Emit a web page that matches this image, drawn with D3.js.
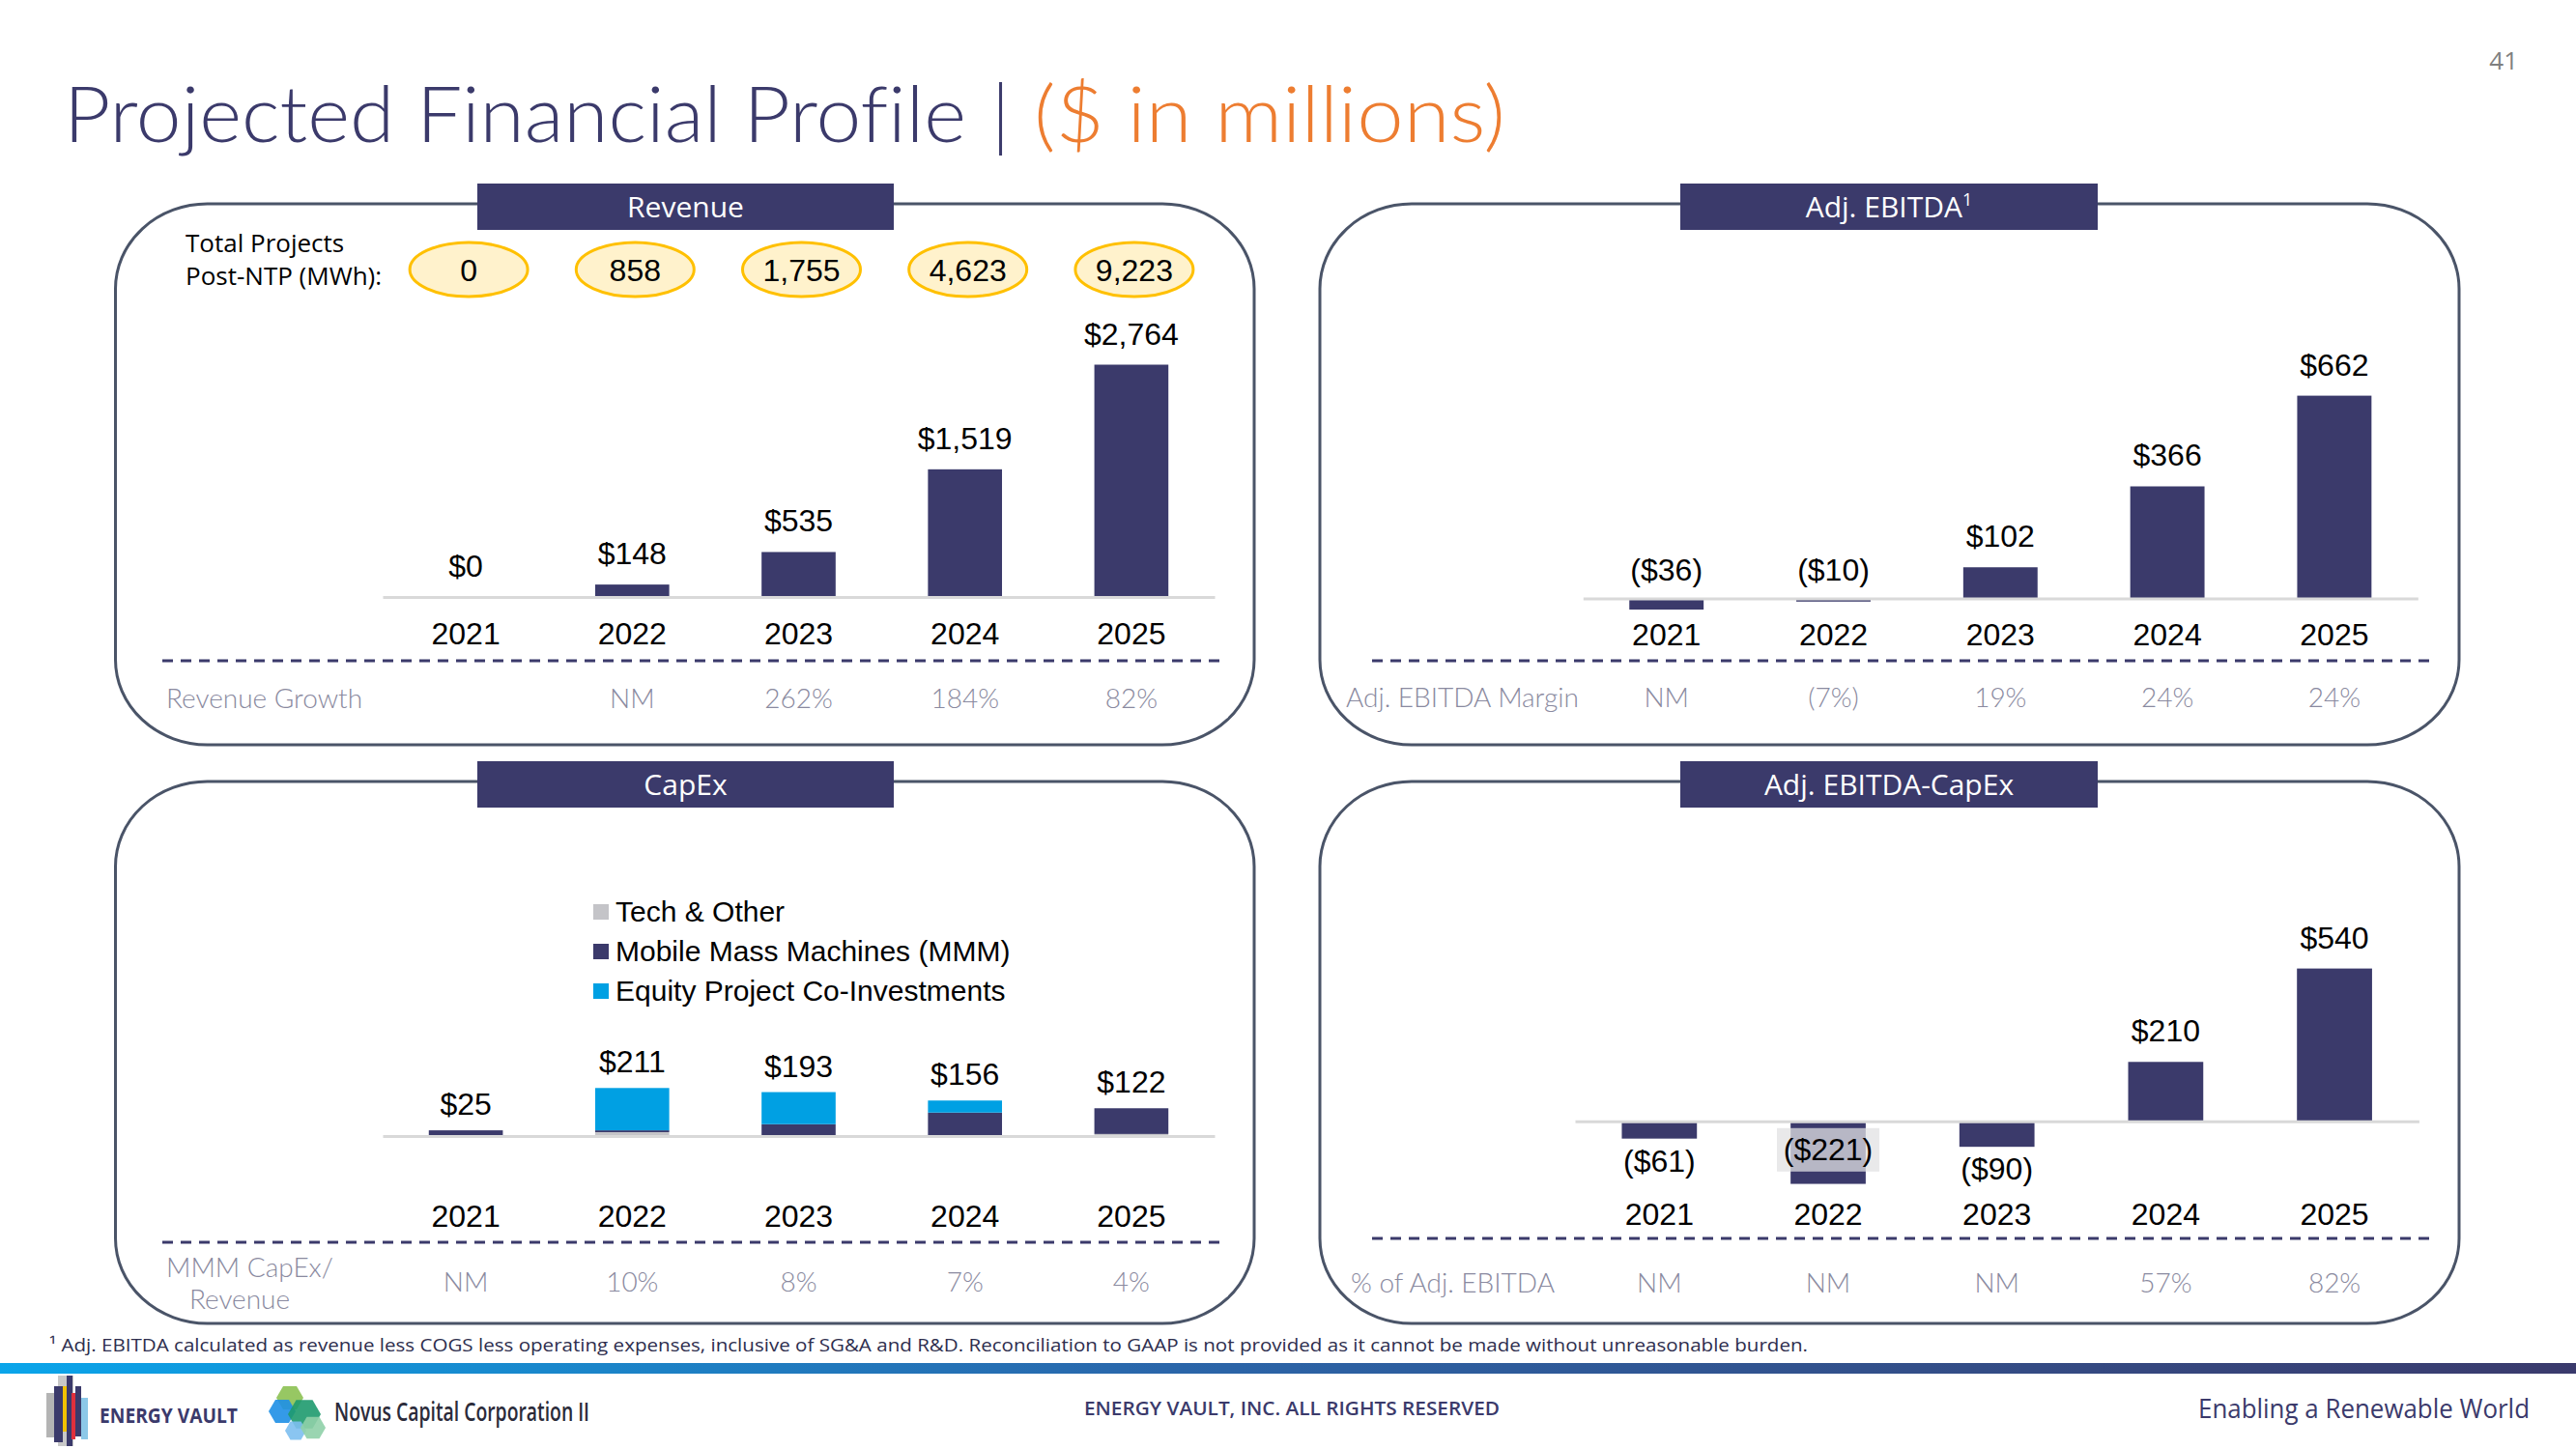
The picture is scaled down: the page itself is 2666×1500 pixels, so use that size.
<!DOCTYPE html>
<html><head><meta charset="utf-8">
<script src="https://cdn.jsdelivr.net/npm/d3@7"></script>
<style>body{margin:0;background:#fff}svg{display:block}text{font-variant-ligatures:none}</style>
</head><body><svg id="c" width="2666" height="1500"></svg>
<script>
// ---------- DATA ----------
const years = ["2021","2022","2023","2024","2025"];
const projectsMWh = ["0","858","1,755","4,623","9,223"];
const revenue = [0,148,535,1519,2764];
const revenueGrowth = ["","NM","262%","184%","82%"];
const adjEbitda = [-36,-10,102,366,662];
const ebitdaMargin = ["NM","(7%)","19%","24%","24%"];
const capexSeries = ["Tech & Other","Mobile Mass Machines (MMM)","Equity Project Co-Investments"];
const capexTech = [0,17,0,0,9];
const capexMMM = [25,8,52,103,113];
const capexEquity = [0,186,141,53,0];
const capexTotal = [25,211,193,156,122];
const mmmCapexPct = ["NM","10%","8%","7%","4%"];
const ebitdaLessCapex = [-61,-221,-90,210,540];
const pctOfEbitda = ["NM","NM","NM","57%","82%"];

// ---------- STYLE ----------
const NAVY="#3B3A6B", CYAN="#00A0E3", LGRAY="#C4C4C8", AXIS="#D9D9D9", ROWGRAY="#8A8AA0", PANEL="#4A5468";
const VALF="'Liberation Sans', Arial, sans-serif", UIF="'Open Sans', sans-serif", THIN="Lato, 'Open Sans', sans-serif";
const svg = d3.select("#c");
svg.append("rect").attr("width",2666).attr("height",1500).attr("fill","#fff");
const fmt = v => v<0 ? "($"+d3.format(",")(-v)+")" : "$"+d3.format(",")(v);

// Title
svg.append("text").attr("x",66).attr("y",147).attr("font-family",THIN).attr("font-weight",300)
  .attr("font-size",80).attr("fill",NAVY).attr("textLength",934).attr("lengthAdjust","spacingAndGlyphs")
  .text("Projected Financial Profile");
svg.append("text").attr("x",1026).attr("y",147).attr("font-family",THIN).attr("font-weight",300)
  .attr("font-size",80).attr("fill",NAVY).text("|");
svg.append("text").attr("x",1070).attr("y",147).attr("font-family",THIN).attr("font-weight",300)
  .attr("font-size",80).attr("fill","#ED7D31").attr("textLength",488).attr("lengthAdjust","spacingAndGlyphs")
  .text("($ in millions)");
svg.append("text").attr("x",2606).attr("y",72).attr("text-anchor","end").attr("font-family",UIF)
  .attr("font-size",26).attr("fill","#7F7F7F").text("41");

function panel(x0,y0,x1,y1,hx0,hx1,title,sup){
  svg.append("rect").attr("x",x0).attr("y",y0).attr("width",x1-x0).attr("height",y1-y0)
    .attr("rx",95).attr("ry",88).attr("fill","none").attr("stroke",PANEL).attr("stroke-width",3);
  svg.append("rect").attr("x",hx0).attr("y",y0-21).attr("width",hx1-hx0).attr("height",48).attr("fill",NAVY);
  const t = svg.append("text").attr("x",(hx0+hx1)/2).attr("y",y0+14).attr("text-anchor","middle")
    .attr("font-family",UIF).attr("font-size",30).attr("fill","#fff").text(title);
  if(sup) t.append("tspan").attr("font-size",18).attr("dy",-12).text(sup);
}

function axisAndRows(g, x, y0, yearBase, dashY, dashX0, dashX1, rowLabel, rowLabelX, rowBase, rowVals, rowLabel2){
  const ax = g.append("g").attr("transform",`translate(0,${y0})`)
    .call(d3.axisBottom(x).tickSize(0).tickSizeOuter(0));
  ax.select(".domain").attr("stroke",AXIS).attr("stroke-width",3);
  ax.selectAll("text").attr("y",yearBase-y0).attr("dy",null).attr("font-family",VALF)
    .attr("font-size",32).attr("fill","#000");
  g.append("line").attr("x1",dashX0).attr("x2",dashX1).attr("y1",dashY).attr("y2",dashY)
    .attr("stroke",NAVY).attr("stroke-width",3).attr("stroke-dasharray","11 8");
  const bw = x.bandwidth();
  const rowText = sel => sel.attr("font-family",THIN).attr("font-weight",300).attr("font-size",28).attr("fill",ROWGRAY);
  if(rowLabel2){
    rowText(g.append("text").attr("x",rowLabelX).attr("y",rowBase-15)).text(rowLabel);
    rowText(g.append("text").attr("x",rowLabelX+76).attr("y",rowBase+18).attr("text-anchor","middle")).text(rowLabel2);
  } else {
    rowText(g.append("text").attr("x",rowLabelX).attr("y",rowBase)).text(rowLabel);
  }
  rowText(g.selectAll("text.row").data(rowVals).join("text").attr("class","row")
    .attr("x",(d,i)=>x(years[i])+bw/2).attr("y",rowBase).attr("text-anchor","middle")).text(d=>d);
}

const band = (a,b) => d3.scaleBand().domain(years).range([a,b]).paddingInner(0.555).paddingOuter(0.2775);

// ---------- Revenue ----------
panel(119.5,211,1298,771,494,925,"Revenue");
{
  const g = svg.append("g");
  const x = band(396,1257);
  const y = d3.scaleLinear().domain([0,2764]).range([618,377.5]);
  const bw = x.bandwidth();
  g.selectAll("rect.bar").data(revenue).join("rect").attr("class","bar")
    .attr("x",(d,i)=>x(years[i])).attr("width",bw)
    .attr("y",d=>y(Math.max(d,0))).attr("height",d=>Math.abs(y(d)-y(0))).attr("fill",NAVY);
  axisAndRows(g,x,618,666.5,684,168,1262,"Revenue Growth",172,733,revenueGrowth);
  g.selectAll("text.val").data(revenue).join("text").attr("class","val")
    .attr("x",(d,i)=>x(years[i])+bw/2).attr("y",d=>y(d)-21).attr("text-anchor","middle")
    .attr("font-family",VALF).attr("font-size",32).attr("fill","#000").text(fmt);
  // MWh ovals
  g.append("text").attr("x",192).attr("y",261).attr("font-family",UIF).attr("font-size",26).attr("fill","#000").text("Total Projects");
  g.append("text").attr("x",192).attr("y",295).attr("font-family",UIF).attr("font-size",26).attr("fill","#000").text("Post-NTP (MWh):");
  g.selectAll("ellipse.mwh").data(projectsMWh).join("ellipse").attr("class","mwh")
    .attr("cx",(d,i)=>x(years[i])+bw/2+3).attr("cy",279).attr("rx",61).attr("ry",28)
    .attr("fill","#FFF2CC").attr("stroke","#FFC000").attr("stroke-width",3);
  g.selectAll("text.mwh").data(projectsMWh).join("text").attr("class","mwh")
    .attr("x",(d,i)=>x(years[i])+bw/2+3).attr("y",291).attr("text-anchor","middle")
    .attr("font-family",VALF).attr("font-size",32).attr("fill","#000").text(d=>d);
}

// ---------- Adj. EBITDA ----------
panel(1366,211,2545,771,1739,2171,"Adj. EBITDA","1");
{
  const g = svg.append("g");
  const x = band(1638.3,2502.3);
  const y = d3.scaleLinear().domain([0,662]).range([619.6,409.6]);
  const bw = x.bandwidth();
  g.selectAll("rect.bar").data(adjEbitda).join("rect").attr("class","bar")
    .attr("x",(d,i)=>x(years[i])).attr("width",bw)
    .attr("y",d=>y(Math.max(d,0))).attr("height",d=>Math.abs(y(d)-y(0))).attr("fill",NAVY);
  axisAndRows(g,x,619.6,668.5,684,1420,2515,"Adj. EBITDA Margin",1393,732,ebitdaMargin);
  g.selectAll("text.val").data(adjEbitda).join("text").attr("class","val")
    .attr("x",(d,i)=>x(years[i])+bw/2).attr("y",d=>d>=0? y(d)-21 : y(0)-19).attr("text-anchor","middle")
    .attr("font-family",VALF).attr("font-size",32).attr("fill","#000").text(fmt);
}

// ---------- CapEx ----------
panel(119.5,809,1298,1370,494,925,"CapEx");
{
  const g = svg.append("g");
  const x = band(396,1257);
  const y = d3.scaleLinear().domain([0,211]).range([1176,1126.3]);
  const bw = x.bandwidth();
  const rows = years.map((yr,i)=>({year:yr, tech:capexTech[i], mmm:capexMMM[i], equity:capexEquity[i]}));
  const stack = d3.stack().keys(["tech","mmm","equity"])(rows);
  const colors = {tech:LGRAY, mmm:NAVY, equity:CYAN};
  g.selectAll("g.layer").data(stack).join("g").attr("class","layer").attr("fill",d=>colors[d.key])
    .selectAll("rect").data(d=>d).join("rect")
    .attr("x",d=>x(d.data.year)).attr("width",bw)
    .attr("y",d=>y(d[1])).attr("height",d=>y(d[0])-y(d[1]));
  axisAndRows(g,x,1176,1270.4,1286,168,1262,"MMM CapEx/",172,1337,mmmCapexPct,"Revenue");
  g.selectAll("text.val").data(capexTotal).join("text").attr("class","val")
    .attr("x",(d,i)=>x(years[i])+bw/2).attr("y",d=>y(d)-16).attr("text-anchor","middle")
    .attr("font-family",VALF).attr("font-size",32).attr("fill","#000").text(fmt);
  // legend
  const legColors=[LGRAY,NAVY,CYAN];
  const lg = g.selectAll("g.leg").data(capexSeries).join("g").attr("class","leg")
    .attr("transform",(d,i)=>`translate(614,${944+i*41})`);
  lg.append("rect").attr("x",0).attr("y",-8).attr("width",16).attr("height",16).attr("fill",(d,i)=>legColors[i]);
  lg.append("text").attr("x",23).attr("y",10).attr("font-family",VALF).attr("font-size",30)
    .attr("fill","#000").text(d=>d);
}

// ---------- Adj. EBITDA - CapEx ----------
panel(1366,809,2545,1370,1739,2171,"Adj. EBITDA-CapEx");
{
  const g = svg.append("g");
  const x = band(1630,2503.4);
  const y = d3.scaleLinear().domain([0,540]).range([1160.8,1002.6]);
  const bw = x.bandwidth();
  g.selectAll("rect.bar").data(ebitdaLessCapex).join("rect").attr("class","bar")
    .attr("x",(d,i)=>x(years[i])).attr("width",bw)
    .attr("y",d=>y(Math.max(d,0))).attr("height",d=>Math.abs(y(d)-y(0))).attr("fill",NAVY);
  axisAndRows(g,x,1160.8,1268.5,1282,1420,2515,"% of Adj. EBITDA",1398,1338,pctOfEbitda);
  const inside = d => d<0 && (y(d)-y(0))>50;
  ebitdaLessCapex.forEach((d,i)=>{
    if(inside(d)){
      g.append("rect").attr("x",x(years[i])+bw/2-53).attr("y",y(0)+7).attr("width",106).attr("height",45)
        .attr("fill","#E1E1E3").attr("opacity",0.75);
    }
  });
  g.selectAll("text.val").data(ebitdaLessCapex).join("text").attr("class","val")
    .attr("x",(d,i)=>x(years[i])+bw/2)
    .attr("y",d=> d>=0 ? y(d)-21 : (inside(d) ? y(0)+40 : y(d)+34)).attr("text-anchor","middle")
    .attr("font-family",VALF).attr("font-size",32).attr("fill","#000").text(fmt);
}

// ---------- Footer ----------
svg.append("text").attr("x",51).attr("y",1399).attr("font-family",UIF).attr("font-size",19).attr("fill","#2E2E4E")
  .attr("textLength",1820).attr("lengthAdjust","spacingAndGlyphs")
  .text("¹ Adj. EBITDA calculated as revenue less COGS less operating expenses, inclusive of SG&A and R&D. Reconciliation to GAAP is not provided as it cannot be made without unreasonable burden.");
const grad = svg.append("defs").append("linearGradient").attr("id","fg").attr("x1","0").attr("x2","1");
grad.append("stop").attr("offset","0").attr("stop-color","#0AA5EA");
grad.append("stop").attr("offset","0.45").attr("stop-color","#2A66AA");
grad.append("stop").attr("offset","1").attr("stop-color","#3A3A6C");
svg.append("rect").attr("x",0).attr("y",1411).attr("width",2666).attr("height",11).attr("fill","url(#fg)");

// Energy Vault logo
[[48,1442,9,46,"#B4B4B4"],[60,1424,16,73,"#C8C8C8"],[56,1435,9,58,NAVY],[65,1435,4,47,"#F2C200"],
 [69,1424,6,73,NAVY],[74,1442,4,48,"#E0303C"],[78,1435,6,52,NAVY],[84,1447,7,43,"#8CC8E8"]]
 .forEach(b=>svg.append("rect").attr("x",b[0]).attr("y",b[1]).attr("width",b[2]).attr("height",b[3]).attr("fill",b[4]));
svg.append("text").attr("x",103).attr("y",1473).attr("font-family",UIF).attr("font-weight",700).attr("font-size",22)
  .attr("fill",NAVY).attr("textLength",143).attr("lengthAdjust","spacingAndGlyphs").text("ENERGY VAULT");
// Novus logo
const hex=(cx,cy,r)=>d3.range(6).map(k=>[cx+r*Math.cos(Math.PI/3*k),cy+r*Math.sin(Math.PI/3*k)]).join(" ");
[[300,1447,14,"#8CC152"],[292,1461,14,"#1E8FE6"],[315,1464,17,"#1E9A6E"],[306,1481,11,"#7DBFF0"],[324,1478,13,"#8FD0A8"]]
 .forEach(h=>svg.append("polygon").attr("points",hex(h[0],h[1],h[2])).attr("fill",h[3]).attr("opacity",0.9));
svg.append("text").attr("x",346).attr("y",1471).attr("font-family",UIF).attr("font-weight",600).attr("font-size",27)
  .attr("fill","#2B2B3A").attr("textLength",264).attr("lengthAdjust","spacingAndGlyphs").text("Novus Capital Corporation II");
svg.append("text").attr("x",1122).attr("y",1465).attr("font-family",UIF).attr("font-weight",600).attr("font-size",20)
  .attr("fill",NAVY).attr("textLength",430).attr("lengthAdjust","spacingAndGlyphs").text("ENERGY VAULT, INC. ALL RIGHTS RESERVED");
svg.append("text").attr("x",2275).attr("y",1468).attr("font-family",UIF).attr("font-size",27)
  .attr("fill",NAVY).attr("textLength",343).attr("lengthAdjust","spacingAndGlyphs").text("Enabling a Renewable World");
</script></body></html>
